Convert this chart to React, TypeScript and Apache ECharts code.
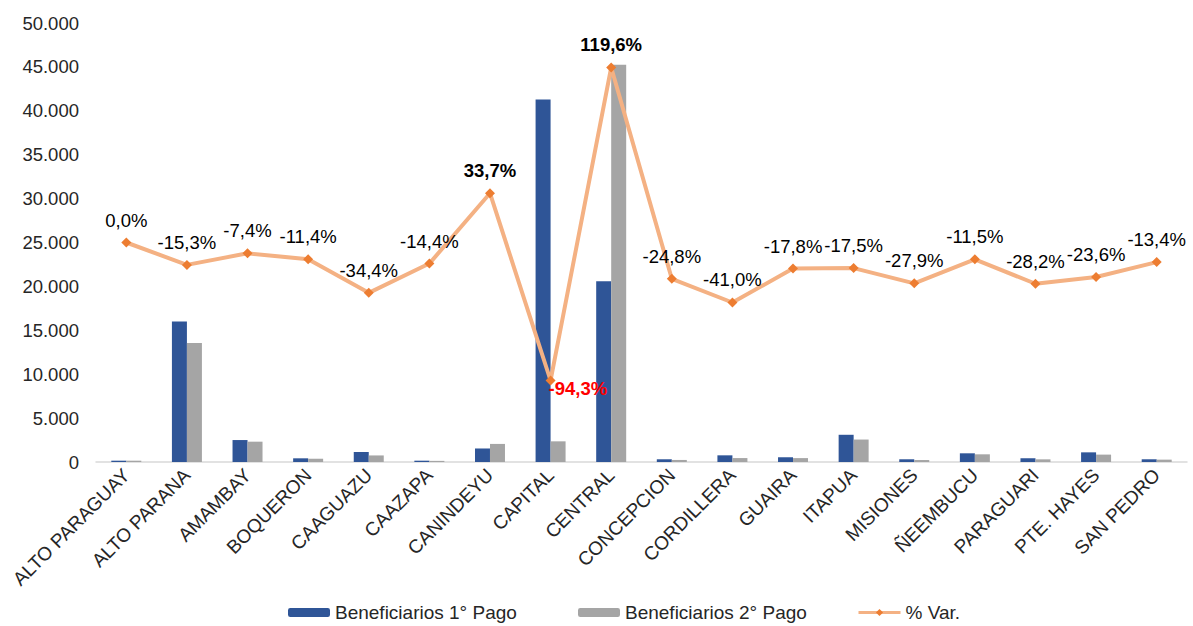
import React, { useEffect, useRef } from "react";
import * as echarts from "echarts";

const categories = [
  "ALTO PARAGUAY", "ALTO PARANA", "AMAMBAY", "BOQUERON", "CAAGUAZU", "CAAZAPA",
  "CANINDEYU", "CAPITAL", "CENTRAL", "CONCEPCION", "CORDILLERA", "GUAIRA",
  "ITAPUA", "MISIONES", "ÑEEMBUCU", "PARAGUARI", "PTE. HAYES", "SAN PEDRO",
];
const pago1 = [150, 16000, 2500, 420, 1140, 150, 1540, 41300, 20600, 310, 760, 540, 3100, 310, 990, 420, 1100, 310];
const pago2 = [150, 13550, 2315, 372, 748, 128, 2059, 2354, 45238, 233, 448, 444, 2558, 224, 876, 302, 840, 268];
const varPct = [0.0, -15.3, -7.4, -11.4, -34.4, -14.4, 33.7, -94.3, 119.6, -24.8, -41.0, -17.8, -17.5, -27.9, -11.5, -28.2, -23.6, -13.4];
const boldIdx = [6, 8];
const redIdx = [7];
const yTicks = { min: 0, max: 50000, interval: 5000 };

const FONT = "'Liberation Sans', Arial, sans-serif";
const fmtPct = (v: number) => v.toFixed(1).replace(".", ",") + "%";
const fmtNum = (v: number) => String(v).replace(/\B(?=(\d{3})+(?!\d))/g, ".");

export default function App() {
  const ref = useRef<HTMLDivElement>(null);
  useEffect(() => {
    if (!ref.current) return;
    const chart = echarts.init(ref.current, undefined, { renderer: "svg" });
    const lineData = varPct.map((v, i) => {
      if (redIdx.includes(i)) {
        return {
          value: v,
          label: {
            position: "right",
            distance: -7,
            offset: [0, 8],
            color: "#FF0000",
            fontWeight: "bold",
          },
        };
      }
      if (boldIdx.includes(i)) {
        return { value: v, label: { fontWeight: "bold", color: "#000" } };
      }
      return { value: v };
    });
    const legendBase = {
      top: 598,
      itemWidth: 42,
      itemHeight: 9,
      itemGap: 10,
      lineStyle: { width: 3 },
      textStyle: { fontSize: 19, fontFamily: FONT, color: "#262626" },
    };
    chart.setOption({
      animation: false,
      textStyle: { fontFamily: FONT },
      grid: { left: 96, right: 6, top: 23, bottom: 164, containLabel: false },
      legend: [
        { ...legendBase, left: 283, data: ["Beneficiarios 1° Pago"] },
        { ...legendBase, left: 573, data: ["Beneficiarios 2° Pago"] },
        { ...legendBase, left: 852, data: ["% Var."] },
      ],
      xAxis: {
        type: "category",
        data: categories,
        axisLine: { lineStyle: { color: "#D9D9D9", width: 1.5 } },
        axisTick: { show: false },
        axisLabel: {
          interval: 0,
          rotate: 45,
          fontSize: 19,
          margin: 10,
          color: "#262626",
          fontFamily: FONT,
        },
      },
      yAxis: [
        {
          type: "value",
          min: yTicks.min,
          max: yTicks.max,
          interval: yTicks.interval,
          splitLine: { show: false },
          axisLine: { show: false },
          axisTick: { show: false },
          axisLabel: {
            fontSize: 18.5,
            margin: 17,
            color: "#262626",
            fontFamily: FONT,
            formatter: (v: number) => fmtNum(v),
          },
        },
        {
          type: "value",
          min: -150,
          max: 150,
          show: false,
          splitLine: { show: false },
        },
      ],
      series: [
        {
          name: "Beneficiarios 1° Pago",
          type: "bar",
          data: pago1,
          barWidth: 15,
          barGap: "0%",
          itemStyle: { color: "#2F5597" },
        },
        {
          name: "Beneficiarios 2° Pago",
          type: "bar",
          data: pago2,
          barWidth: 15,
          barGap: "0%",
          itemStyle: { color: "#A5A5A5" },
        },
        {
          name: "% Var.",
          type: "line",
          yAxisIndex: 1,
          data: lineData,
          symbol: "diamond",
          symbolSize: 10,
          lineStyle: { color: "#F4B183", width: 4 },
          itemStyle: { color: "#ED7D31" },
          label: {
            show: true,
            position: "top",
            distance: 8,
            fontSize: 18.5,
            color: "#000",
            fontFamily: FONT,
            formatter: (p: any) => fmtPct(p.value),
          },
          z: 5,
        },
      ],
    });
    return () => chart.dispose();
  }, []);
  return (
    <div
      ref={ref}
      style={{ position: "fixed", left: 0, top: 0, width: 1193, height: 626, background: "#fff" }}
    />
  );
}
